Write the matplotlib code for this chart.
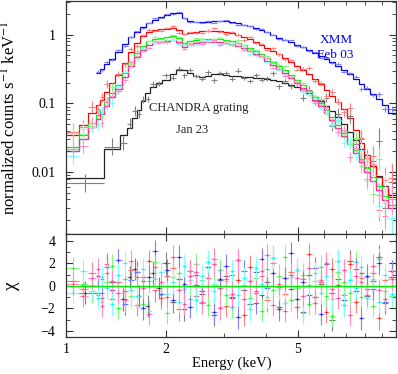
import numpy as np
import matplotlib
matplotlib.use("Agg")
import matplotlib.pyplot as plt
from matplotlib.ticker import FixedLocator, NullFormatter, MultipleLocator, LogLocator

# bin edges in keV (shared by the red / green / cyan / magenta spectra)
grid_edges = [1.00, 1.09, 1.16, 1.23, 1.26, 1.30, 1.345, 1.40, 1.47,
              1.53, 1.60, 1.67, 1.74, 1.81, 1.89, 1.97,
              2.05, 2.14, 2.23, 2.32, 2.42, 2.52, 2.63, 2.74, 2.86, 2.98,
              3.10, 3.23, 3.37, 3.51, 3.66, 3.81, 3.97, 4.14, 4.31, 4.49,
              4.68, 4.88, 5.08, 5.30, 5.52, 5.75, 5.99, 6.24, 6.50, 6.77,
              7.05, 7.35, 7.65, 7.95, 8.30, 8.62, 8.98, 9.40, 9.95]
xmm_edges = grid_edges[3:]
chandra_edges = [1.00, 1.30, 1.45, 1.525, 1.58, 1.635, 1.68, 1.73, 1.79,
                 1.867, 1.947] + grid_edges[16:]

# model values (normalized counts s^-1 keV^-1)
red_model = [0.0345, 0.0483, 0.0722, 0.0944, 0.111, 0.146, 0.197, 0.258, 0.385, 0.556,
             0.752, 0.951, 1.09, 1.16, 1.20, 1.22, 1.24, 1.16, 1.02, 1.05,
             1.09, 1.12, 1.12, 1.12, 1.12, 1.09, 1.05, 0.983, 0.920, 0.860,
             0.778, 0.703, 0.636, 0.575, 0.521, 0.455, 0.398, 0.348, 0.305, 0.266,
             0.225, 0.191, 0.156, 0.128, 0.105, 0.0827, 0.0610, 0.0408, 0.0264, 0.0177,
             0.0122, 0.00846, 0.00605, 0.00433]
green_model = [0.0231, 0.0345, 0.0516, 0.0675, 0.0798, 0.104, 0.141, 0.184, 0.276, 0.398,
               0.538, 0.680, 0.804, 0.860, 0.889, 0.920, 0.951, 0.889, 0.752, 0.804,
               0.832, 0.860, 0.860, 0.860, 0.860, 0.832, 0.804, 0.752, 0.703, 0.636,
               0.575, 0.521, 0.455, 0.398, 0.348, 0.305, 0.258, 0.218, 0.184, 0.151,
               0.123, 0.101, 0.0798, 0.0627, 0.0483, 0.0369, 0.0281, 0.0209, 0.0155, 0.0114,
               0.00846, 0.00626, 0.00448, 0.00331]
magenta_model = [0.0202, 0.0302, 0.0451, 0.0590, 0.0698, 0.0912, 0.123, 0.161, 0.241, 0.348,
                 0.471, 0.595, 0.703, 0.752, 0.778, 0.804, 0.832, 0.778, 0.658, 0.703,
                 0.752, 0.778, 0.778, 0.778, 0.778, 0.752, 0.727, 0.680, 0.636, 0.575,
                 0.521, 0.471, 0.411, 0.360, 0.315, 0.276, 0.234, 0.197, 0.167, 0.137,
                 0.111, 0.0912, 0.0722, 0.0570, 0.0437, 0.0334, 0.0256, 0.0189, 0.0140, 0.0100,
                 0.00740, 0.00547, 0.00392, 0.00299]
xmm_model = [0.275, 0.315, 0.372, 0.440, 0.556, 0.727, 0.920, 1.09, 1.29, 1.47,
             1.63, 1.80, 1.92, 2.05, 2.05, 1.74, 1.57, 1.52, 1.52, 1.52,
             1.57, 1.57, 1.57, 1.52, 1.47, 1.37, 1.33, 1.24, 1.16, 1.09,
             0.983, 0.889, 0.832, 0.778, 0.703, 0.658, 0.595, 0.538, 0.487, 0.440,
             0.398, 0.348, 0.305, 0.266, 0.225, 0.191, 0.161, 0.137, 0.115, 0.0944,
             0.0722]
chandra_model = [0.00818, 0.0216, 0.0345, 0.0437, 0.0610, 0.0798, 0.108, 0.141, 0.172, 0.197,
                 0.218, 0.266, 0.305, 0.305, 0.276, 0.249, 0.241, 0.249, 0.266, 0.266,
                 0.258, 0.249, 0.249, 0.241, 0.241, 0.233, 0.233, 0.225, 0.218, 0.211,
                 0.197, 0.184, 0.172, 0.156, 0.141, 0.123, 0.108, 0.0912, 0.0773, 0.0627,
                 0.0500, 0.0382, 0.0292, 0.0216, 0.0160, 0.0122, 0.00878, 0.00626, 0.00463]

# residuals (chi)
red_chi = [0.4, -0.3, 1.1, -0.8, 0.6, 1.9, -1.2, 0.3, -0.5, 1.4,
           -1.7, 0.8, 2.2, -0.4, -1.1, 0.9, 1.6, -2.1, 0.2, 1.3,
           -0.9, -1.5, 0.7, 2.4, -0.2, -1.8, 1.0, 0.5, -2.6, 1.7,
           -0.6, 0.9, -1.3, 2.0, -0.1, -0.7, 1.2, -1.9, 0.6, 2.8,
           -1.0, 0.3, -2.3, 1.5, 0.1, -0.8, 1.9, -1.4, 0.7, -0.3,
           1.1, -2.9, 0.5, 1.3]
green_chi = [1.6, 0.2, -0.5, 0.9, -1.4, 0.3, 1.8, -2.0, 0.6, -0.9,
             1.2, -1.6, 0.4, 2.1, -0.7, -2.4, 0.8, 1.1, -0.3, -1.2,
             1.9, 0.5, -1.7, 0.2, 1.4, -0.8, -1.9, 2.3, 0.1, -1.1,
             0.7, -2.2, 1.5, -0.4, 0.9, 2.6, -1.3, -0.2, 1.0, -1.6,
             0.4, 1.7, -0.9, -2.7, 1.2, 0.3, -0.6, 2.1, -1.0, 0.8,
             -1.8, 2.4, -0.5, -0.9]
cyan_chi = [-0.6, 1.3, 0.1, -1.1, 0.8, -0.2, -1.6, 1.0, 2.0, -0.4,
            -0.9, 1.5, -2.2, 0.6, 1.2, -0.7, 0.3, -1.4, 1.8, 0.5,
            -1.3, 0.9, 2.1, -0.5, -1.9, 0.4, 1.3, -0.8, 0.7, -2.1,
            1.6, 0.2, -1.0, 2.5, -0.3, -1.5, 0.8, 1.4, -2.4, 0.1,
            1.1, -0.6, 0.9, -1.2, 2.2, -1.7, 0.5, -0.2, 1.7, -1.1,
            0.6, -1.4, 1.0, -0.7]
magenta_chi = [0.2, -0.9, 0.7, 1.5, -1.8, 1.1, 0.4, -0.6, -1.3, 2.2,
               0.8, -0.2, -2.5, 1.7, 0.3, -1.0, 2.6, -0.4, -1.6, 0.9,
               1.2, -1.4, 0.0, 1.9, -2.0, 0.6, -0.7, 2.3, -1.2, 0.4,
               -0.5, 1.3, 2.7, -1.7, 0.2, -2.2, 1.0, 0.7, -0.9, 1.6,
               -1.5, 0.5, 2.0, -0.3, -1.1, 1.4, -2.6, 0.9, 0.3, -0.8,
               1.8, -0.4, -1.2, 0.6]
xmm_chi = [0.9, -1.1, 1.7, -0.4, 2.3, -1.6, 0.5, 1.2, -2.0, 0.8,
           3.1, -0.7, 1.4, -1.3, 2.6, 0.2, -1.9, 1.0, -0.5, 2.1,
           -2.3, 0.6, 1.8, -1.0, -2.8, 1.3, 0.4, -1.5, 2.4, -0.2,
           1.1, -2.1, 0.7, 2.9, -1.2, 0.3, -0.8, 1.6, -2.5, 1.9,
           -0.6, 2.2, -1.7, 0.5, 1.5, -2.9, 0.9, -0.3, 2.0, -1.4,
           1.3]
chandra_chi = [-0.6, 0.3, -1.2, 0.8, 1.5, -0.9, 0.4, -1.8, 1.1, -0.2,
               2.0, -1.4, 0.6, -2.1, 1.3, 0.1, -0.7, 1.7, -2.6, 0.5,
               0.9, -1.1, 2.3, -0.4, -1.6, 1.2, -0.8, 0.3, 2.5, -1.9,
               0.7, -0.3, 1.4, -2.3, 1.0, -1.0, 0.2, 1.9, -3.0, 0.6,
               -1.3, 2.2, -0.5, 1.1, -0.9, 0.4, 2.6, -1.5, 0.8]

# relative 1-sigma errors of the data points
grid_err = [0.30, 0.25, 0.20, 0.18, 0.16, 0.14, 0.12, 0.10, 0.08, 0.07,
            0.06, 0.05, 0.04, 0.04, 0.04, 0.04, 0.04, 0.04, 0.04, 0.04,
            0.04, 0.04, 0.04, 0.04, 0.04, 0.04, 0.04, 0.04, 0.04, 0.04,
            0.04, 0.04, 0.04, 0.05, 0.05, 0.05, 0.05, 0.06, 0.06, 0.07,
            0.07, 0.08, 0.09, 0.10, 0.12, 0.14, 0.17, 0.20, 0.24, 0.28,
            0.32, 0.38, 0.44, 0.50]
xmm_err = [0.05, 0.04, 0.04, 0.04, 0.03, 0.03, 0.02, 0.02, 0.02, 0.02,
           0.02, 0.02, 0.02, 0.02, 0.02, 0.02, 0.02, 0.02, 0.02, 0.02,
           0.02, 0.02, 0.02, 0.02, 0.02, 0.02, 0.02, 0.02, 0.02, 0.02,
           0.02, 0.02, 0.02, 0.02, 0.02, 0.03, 0.03, 0.03, 0.03, 0.03,
           0.04, 0.04, 0.04, 0.05, 0.05, 0.06, 0.06, 0.07, 0.08, 0.09,
           0.10]
chandra_err = [0.30, 0.28, 0.22, 0.18, 0.16, 0.14, 0.12, 0.11, 0.10, 0.09,
               0.08, 0.08, 0.08, 0.08, 0.08, 0.08, 0.08, 0.08, 0.08, 0.08,
               0.08, 0.08, 0.08, 0.08, 0.08, 0.08, 0.08, 0.09, 0.09, 0.09,
               0.09, 0.10, 0.10, 0.11, 0.12, 0.13, 0.14, 0.15, 0.17, 0.19,
               0.21, 0.24, 0.27, 0.31, 0.35, 0.40, 0.45, 0.50, 0.55]


def draw(ax, axr, edges, model, chi, err, color, light):
    edges = np.array(edges)
    model = np.array(model)
    chi = np.array(chi)
    sig = np.array(err) * 0.4343
    centers = np.sqrt(edges[:-1] * edges[1:])
    xerr = [centers - edges[:-1], edges[1:] - centers]
    data = model * 10 ** (chi * sig)
    yerr = [data - data / 10 ** sig, data * 10 ** sig - data]
    ax.errorbar(centers, data, xerr=xerr, yerr=yerr, fmt='none',
                ecolor=light, elinewidth=0.8)
    ax.stairs(model, edges, baseline=None, color=color, lw=0.9)
    axr.errorbar(centers, chi, xerr=xerr, yerr=1, fmt='none',
                 ecolor=light, elinewidth=0.8)
    axr.plot(centers, chi, 's', ms=1.2, color=color, mew=0)


def main():
    plt.rcParams['font.family'] = ['Liberation Serif', 'DejaVu Serif']
    plt.rcParams['mathtext.fontset'] = 'stix'

    fig = plt.figure(figsize=(3.98, 3.74), dpi=100)
    ax = fig.add_axes([0.167, 0.3743, 0.829, 0.623])
    axr = fig.add_axes([0.167, 0.0989, 0.829, 0.2754], sharex=ax)

    draw(ax, axr, chandra_edges, chandra_model, chandra_chi, chandra_err,
         '#222222', '#808080')
    draw(ax, axr, grid_edges, red_model, red_chi, grid_err, '#ff0000', '#ff8080')
    draw(ax, axr, grid_edges, green_model, green_chi, grid_err, '#00ee00', '#80ff80')
    draw(ax, axr, xmm_edges, xmm_model, xmm_chi, xmm_err, '#0000ff', '#8080ff')
    draw(ax, axr, grid_edges, magenta_model, cyan_chi, grid_err, '#00e5e5', '#80ffff')
    draw(ax, axr, grid_edges, magenta_model, magenta_chi, grid_err, '#ff2a8a', '#ff8fc4')
    axr.axhline(0, color='#00ee00', lw=1)

    ax.set_xscale('log')
    ax.set_yscale('log')
    ax.set_xlim(1, 9.95)
    ax.set_ylim(0.00125, 3.1)
    axr.set_ylim(-4.55, 4.6)

    for a in (ax, axr):
        a.xaxis.set_major_locator(FixedLocator([1, 2, 5]))
        a.xaxis.set_minor_locator(FixedLocator([3, 4, 6, 7, 8, 9]))
        a.xaxis.set_minor_formatter(NullFormatter())
        a.tick_params(which='both', direction='in', top=True, right=True,
                      labelsize=10, color='#333333')
        a.tick_params(which='major', length=5, width=0.8)
        a.tick_params(which='minor', length=3, width=0.6)
        a.tick_params(axis='y', pad=8)
        a.tick_params(axis='x', pad=4)
        for s in a.spines.values():
            s.set_color('#333333')
            s.set_linewidth(0.9)

    ax.tick_params(labelbottom=False)
    axr.set_xticklabels(['1', '2', '5'])
    ax.yaxis.set_major_locator(FixedLocator([0.01, 0.1, 1]))
    ax.set_yticklabels(['0.01', '0.1', '1'])
    ax.yaxis.set_minor_locator(LogLocator(base=10, subs=np.arange(2, 10)))
    ax.yaxis.set_minor_formatter(NullFormatter())
    axr.yaxis.set_major_locator(FixedLocator([-4, -2, 0, 2, 4]))
    axr.set_yticklabels(['\u22124', '\u22122', '0', '2', '4'])
    axr.yaxis.set_minor_locator(MultipleLocator(1))

    ax.set_ylabel(r'normalized counts s$^{-1}$ keV$^{-1}$', fontsize=12)
    axr.set_ylabel('\u03c7', fontsize=14)
    ax.yaxis.set_label_coords(-0.14, 0.5)
    axr.yaxis.set_label_coords(-0.14, 0.5)
    axr.set_xlabel('Energy (keV)', fontsize=10.5, labelpad=1)

    ax.text(6.56, 0.83, 'XMM', color='#0000ff', fontsize=9.5, ha='center', va='center')
    ax.text(6.48, 0.50, 'Feb 03', color='#0000ff', fontsize=9.5, ha='center', va='center')
    ax.text(2.52, 0.085, 'CHANDRA grating', color='#222222', fontsize=9,
            ha='center', va='center')
    ax.text(2.40, 0.041, 'Jan 23', color='#222222', fontsize=9,
            ha='center', va='center')

    fig.savefig('out.png', dpi=100)


if __name__ == "__main__":
    main()
